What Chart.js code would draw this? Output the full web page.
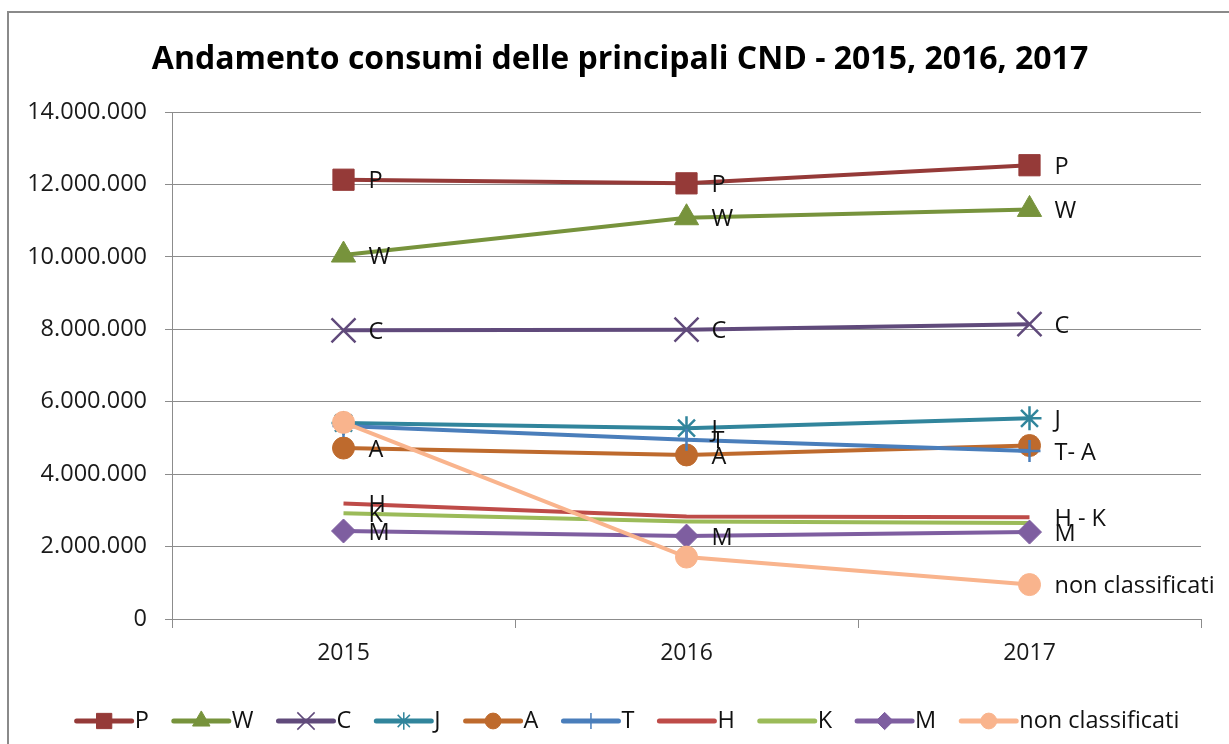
<!DOCTYPE html>
<html>
<head>
<meta charset="utf-8">
<title>Andamento consumi CND</title>
<script src="https://cdn.jsdelivr.net/npm/chart.js@4.4.1/dist/chart.umd.min.js"></script>
<style>
    html, body { margin: 0; padding: 0; background: #fff; overflow: hidden; }
    #wrap { position: relative; width: 1229px; height: 744px; }
    #frame { position: absolute; left: 7px; top: 11px; width: 1300px; height: 800px; border: 2px solid #8a8a8a; }
    #myChart { position: absolute; left: 0; top: 0; }
</style>
</head>
<body>
<div id="wrap">
    <div id="frame"></div>
    <canvas id="myChart" width="1229" height="744"></canvas>
</div>
<script>
var years = ['2015', '2016', '2017'];
var seriesNames = ['P', 'W', 'C', 'J', 'A', 'T', 'H', 'K', 'M', 'non classificati'];
var yTicks = [0, 2000000, 4000000, 6000000, 8000000, 10000000, 12000000, 14000000];
var titleText = 'Andamento consumi delle principali CND - 2015, 2016, 2017';

// consumption per year, one array per CND group
var valuesP = [12130000, 12030000, 12530000];
var valuesW = [10050000, 11080000, 11310000];
var valuesC = [7970000, 7990000, 8140000];
var valuesJ = [5410000, 5270000, 5540000];
var valuesA = [4720000, 4530000, 4790000];
var valuesT = [5330000, 4950000, 4640000];
var valuesH = [3190000, 2830000, 2810000];
var valuesK = [2920000, 2690000, 2650000];
var valuesM = [2430000, 2290000, 2400000];
var valuesNC = [5430000, 1710000, 950000];

// text written next to each point ('' = no label)
var labelsP = ['P', 'P', 'P'];
var labelsW = ['W', 'W', 'W'];
var labelsC = ['C', 'C', 'C'];
var labelsJ = ['', 'J', 'J'];
var labelsA = ['A', 'A', ''];
var labelsT = ['', 'T', 'T- A'];
var labelsH = ['H', '', 'H - K'];
var labelsK = ['K', '', ''];
var labelsM = ['M', 'M', 'M'];
var labelsNC = ['', '', 'non classificati'];

var allValues = [valuesP, valuesW, valuesC, valuesJ, valuesA, valuesT, valuesH, valuesK, valuesM, valuesNC];
var allLabels = [labelsP, labelsW, labelsC, labelsJ, labelsA, labelsT, labelsH, labelsK, labelsM, labelsNC];

// line colour, marker shape and marker size for each series
var lineColors = ['#953a38', '#77933c', '#604a7b', '#31859c', '#be6a2d', '#4a7ebb', '#be4b48', '#9bbb59', '#7e5ea0', '#f9b48d'];
var markerStyles = ['rect', 'triangle', 'crossRot', 'star', 'circle', 'cross', 'circle', 'circle', 'rectRot', 'circle'];
var markerSizes = [15, 14, 17, 12, 11, 11, 0, 0, 12, 11];

var FONT = '"Open Sans", "DejaVu Sans", sans-serif';
var TEXT_SIZE = 23.5;

function formatThousands(v) {
    return String(v).replace(/\B(?=(\d{3})+(?!\d))/g, '.');
}

function isThin(style) {
    return style === 'cross' || style === 'crossRot' || style === 'star';
}

var datasets = [];
for (var i = 0; i < seriesNames.length; i++) {
    datasets.push({
        label: seriesNames[i],
        data: allValues[i],
        borderColor: lineColors[i],
        backgroundColor: lineColors[i],
        borderWidth: 4,
        tension: 0,
        pointStyle: markerStyles[i],
        pointRadius: markerSizes[i],
        pointHoverRadius: markerSizes[i],
        pointBorderWidth: isThin(markerStyles[i]) ? 2.5 : 1,
        pointBackgroundColor: lineColors[i],
        pointBorderColor: lineColors[i],
        order: -i
    });
}

// title drawn above the plot
var titlePlugin = {
    id: 'titleText',
    afterDraw: function(chart) {
        var ctx = chart.ctx;
        ctx.save();
        ctx.font = 'bold 32px ' + FONT;
        ctx.fillStyle = '#000';
        ctx.textAlign = 'center';
        ctx.textBaseline = 'middle';
        ctx.fillText(titleText, 620, 60);
        ctx.restore();
    }
};

// labels to the right of the points
var pointLabelPlugin = {
    id: 'pointLabels',
    afterDatasetsDraw: function(chart) {
        var ctx = chart.ctx;
        ctx.save();
        ctx.font = TEXT_SIZE + 'px ' + FONT;
        ctx.fillStyle = '#111';
        ctx.textAlign = 'left';
        ctx.textBaseline = 'middle';
        for (var i = 0; i < allLabels.length; i++) {
            var meta = chart.getDatasetMeta(i);
            for (var j = 0; j < meta.data.length; j++) {
                var text = allLabels[i][j];
                if (!text) continue;
                var pt = meta.data[j];
                ctx.fillText(text, pt.x + 25, pt.y + 2);
            }
        }
        ctx.restore();
    }
};

// legend row: a short line with the marker on it, then the name
var legendPlugin = {
    id: 'lineLegend',
    afterDraw: function(chart) {
        var ctx = chart.ctx;
        var lineLen = 55, gapText = 3, gapItem = 25, y = 721;
        ctx.save();
        ctx.font = TEXT_SIZE + 'px ' + FONT;
        var total = 0;
        var widths = [];
        for (var i = 0; i < seriesNames.length; i++) {
            widths.push(ctx.measureText(seriesNames[i]).width);
            total += lineLen + gapText + widths[i];
            if (i < seriesNames.length - 1) total += gapItem;
        }
        var x = 628 - total / 2;
        for (var i = 0; i < seriesNames.length; i++) {
            ctx.strokeStyle = lineColors[i];
            ctx.lineWidth = 5;
            ctx.lineCap = 'round';
            ctx.beginPath();
            ctx.moveTo(x, y);
            ctx.lineTo(x + lineLen, y);
            ctx.stroke();
            if (markerSizes[i] > 0 && Chart.helpers && Chart.helpers.drawPoint) {
                var thin = isThin(markerStyles[i]);
                ctx.fillStyle = lineColors[i];
                ctx.lineWidth = thin ? 1.5 : 1;
                ctx.lineCap = 'butt';
                Chart.helpers.drawPoint(ctx, {
                    pointStyle: markerStyles[i],
                    radius: markerSizes[i] * 0.72,
                    rotation: 0,
                    borderWidth: thin ? 1.5 : 1
                }, x + lineLen / 2, y);
            }
            ctx.fillStyle = '#111';
            ctx.textAlign = 'left';
            ctx.textBaseline = 'middle';
            ctx.fillText(seriesNames[i], x + lineLen + gapText, y);
            x += lineLen + gapText + widths[i] + gapItem;
        }
        ctx.restore();
    }
};

var ctx = document.getElementById('myChart').getContext('2d');
var myChart = new Chart(ctx, {
    type: 'line',
    data: {
        labels: years,
        datasets: datasets
    },
    options: {
        responsive: false,
        animation: false,
        devicePixelRatio: 1,
        layout: {
            padding: { top: 112, right: 28, bottom: 65, left: 0 }
        },
        plugins: {
            legend: { display: false },
            title: { display: false },
            tooltip: { enabled: false }
        },
        scales: {
            x: {
                offset: true,
                grid: {
                    display: true,
                    offset: true,
                    drawOnChartArea: false,
                    drawTicks: true,
                    tickLength: 9,
                    color: '#8c8c8c'
                },
                border: { display: true, color: '#8c8c8c', width: 1 },
                ticks: {
                    color: '#1a1a1a',
                    padding: 12,
                    font: { family: FONT, size: 23 }
                },
                afterFit: function(scale) { scale.height = 60; }
            },
            y: {
                min: 0,
                max: 14000000,
                afterBuildTicks: function(scale) {
                    scale.ticks = yTicks.map(function(v) { return { value: v }; });
                },
                grid: {
                    color: '#8c8c8c',
                    lineWidth: 1,
                    drawTicks: true,
                    tickLength: 7
                },
                border: { display: true, color: '#8c8c8c', width: 1 },
                ticks: {
                    color: '#1a1a1a',
                    padding: 18,
                    font: { family: FONT, size: TEXT_SIZE },
                    callback: function(value) { return formatThousands(value); }
                },
                afterFit: function(scale) { scale.width = 172; }
            }
        }
    },
    plugins: [titlePlugin, pointLabelPlugin, legendPlugin]
});
</script>
</body>
</html>
